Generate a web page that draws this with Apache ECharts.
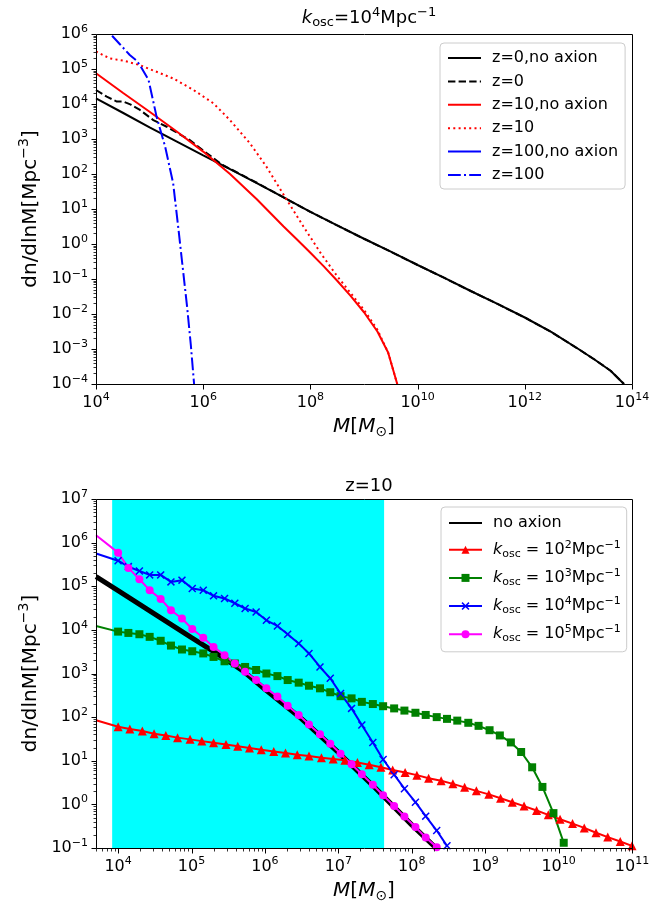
<!DOCTYPE html>
<html>
<head>
<meta charset="utf-8">
<script src="https://cdn.jsdelivr.net/npm/echarts@6/dist/echarts.min.js"></script>
<style>
  html, body { margin: 0; padding: 0; background: #fff; }
  #chart { width: 672px; height: 909px; }
</style>
</head>
<body>
<div id="chart"></div>
<script>
// ---------------- Upper panel: k_osc = 1e4 Mpc^-1 (values stored as log10) ----------------
const z0NoAxionLogM = [4, 4.5, 5, 5.5, 6, 6.5, 7, 7.5, 8, 8.5, 9, 9.5, 10, 10.5, 11, 11.5, 12, 12.5, 13, 13.3, 13.6, 13.85];
const z0NoAxionLogN = [4.16, 3.75, 3.33, 2.93, 2.53, 2.14, 1.74, 1.33, 0.92, 0.53, 0.15, -0.22, -0.6, -0.97, -1.35, -1.72, -2.1, -2.52, -3.0, -3.3, -3.62, -4.0];

const z0LogM = [4, 4.2, 4.39, 4.51, 4.65, 4.82, 5.07, 5.32, 5.75, 6.07, 6.37, 6.69, 7, 7.5, 8, 8.5, 9, 9.5, 10, 10.5, 11, 11.5, 12, 12.5, 13, 13.3, 13.6, 13.85];
const z0LogN = [4.4, 4.21, 4.07, 4.07, 3.98, 3.83, 3.54, 3.35, 2.97, 2.59, 2.25, 2.0, 1.75, 1.33, 0.92, 0.53, 0.15, -0.22, -0.6, -0.97, -1.35, -1.72, -2.1, -2.52, -3.0, -3.3, -3.62, -4.0];

const z10NoAxionLogM = [4, 4.5, 5, 5.5, 6, 6.5, 7, 7.5, 7.75, 8, 8.25, 8.5, 8.75, 9, 9.25, 9.45, 9.62];
const z10NoAxionLogN = [4.88, 4.32, 3.78, 3.22, 2.64, 2.0, 1.28, 0.5, 0.13, -0.25, -0.64, -1.05, -1.48, -1.95, -2.5, -3.1, -4.0];

const z10LogM = [4, 4.26, 4.51, 4.82, 5.13, 5.44, 5.82, 6.19, 6.5, 6.87, 7.18, 7.56, 7.87, 8.2, 8.5, 8.75, 9, 9.25, 9.45, 9.62];
const z10LogN = [5.5, 5.3, 5.24, 5.11, 4.92, 4.73, 4.4, 4.02, 3.54, 2.88, 2.21, 1.26, 0.5, -0.28, -0.92, -1.4, -1.88, -2.45, -3.1, -4.0];

// z=100 without axions lies entirely below the plotted range
const z100NoAxionLogM = [];
const z100NoAxionLogN = [];

const z100LogM = [4.3, 4.45, 4.63, 4.75, 4.82, 4.98, 5.13, 5.29, 5.44, 5.54, 5.62, 5.7, 5.77, 5.83];
const z100LogN = [5.95, 5.7, 5.4, 5.25, 5.11, 4.69, 3.64, 2.78, 1.73, 0.4, -0.7, -1.8, -2.9, -4.0];

// ---------------- Lower panel: z = 10 (values stored as log10) ----------------
const noAxionLogM = [3.7, 4.0, 4.5, 5.0, 5.4, 5.7, 6.0, 6.5, 7.0, 7.5, 8.0, 8.33];
const noAxionLogN = [5.22, 4.9, 4.36, 3.82, 3.4, 3.06, 2.64, 1.96, 1.19, 0.38, -0.47, -1.0];

// mass sampling of the marked curves (first entry is the left plot edge, drawn without a marker)
const k2LogM = [3.7, 4.00, 4.16, 4.33, 4.49, 4.65, 4.81, 4.98, 5.14, 5.30, 5.47, 5.63, 5.79, 5.95, 6.12, 6.28, 6.44, 6.60, 6.77, 6.93, 7.09, 7.26, 7.42, 7.58, 7.74, 7.91, 8.07, 8.23, 8.40, 8.56, 8.72, 8.88, 9.05, 9.21, 9.37, 9.53, 9.70, 9.86, 10.02, 10.19, 10.35, 10.51, 10.67, 10.84, 11.00];
const k2LogN = [1.93, 1.78, 1.73, 1.68, 1.62, 1.58, 1.53, 1.49, 1.45, 1.41, 1.37, 1.33, 1.29, 1.25, 1.21, 1.18, 1.14, 1.11, 1.07, 1.04, 1.01, 0.96, 0.91, 0.85, 0.79, 0.73, 0.67, 0.6, 0.54, 0.47, 0.39, 0.31, 0.23, 0.14, 0.05, -0.04, -0.14, -0.24, -0.34, -0.44, -0.54, -0.65, -0.75, -0.85, -0.95];

const kGridLogM = [3.7, 4.00, 4.14, 4.29, 4.43, 4.58, 4.72, 4.87, 5.01, 5.16, 5.30, 5.45, 5.59, 5.73, 5.88, 6.02, 6.17, 6.31, 6.46, 6.60, 6.75, 6.89, 7.03, 7.18, 7.32, 7.47, 7.61, 7.76, 7.90, 8.05, 8.19, 8.34, 8.48, 8.62, 8.77, 8.91, 9.06, 9.20, 9.35, 9.49, 9.64, 9.78, 9.93, 10.07];

const k3LogN = [4.09, 3.96, 3.93, 3.90, 3.84, 3.75, 3.64, 3.55, 3.51, 3.46, 3.38, 3.28, 3.23, 3.15, 3.08, 3.00, 2.94, 2.85, 2.79, 2.72, 2.66, 2.57, 2.48, 2.43, 2.35, 2.30, 2.25, 2.2, 2.15, 2.1, 2.05, 2.0, 1.96, 1.92, 1.87, 1.8, 1.7, 1.58, 1.42, 1.2, 0.85, 0.4, -0.2, -0.88];
const k4LogN = [5.75, 5.585, 5.45, 5.35, 5.26, 5.26, 5.10, 5.14, 4.95, 4.91, 4.78, 4.72, 4.61, 4.49, 4.41, 4.22, 4.09, 3.90, 3.69, 3.46, 3.15, 2.89, 2.54, 2.2, 1.82, 1.42, 1.03, 0.68, 0.36, 0.05, -0.27, -0.6, -0.95];
const k5LogN = [6.17, 5.77, 5.42, 5.16, 4.91, 4.71, 4.45, 4.26, 4.02, 3.82, 3.61, 3.42, 3.23, 3.04, 2.85, 2.66, 2.47, 2.26, 2.05, 1.83, 1.61, 1.39, 1.16, 0.92, 0.69, 0.45, 0.21, -0.04, -0.28, -0.52, -0.76, -0.98];

// shaded mass window (solar masses)
const shadedMassRange = [8.3e3, 4.2e7];

// axis limits and major tick exponents
const topXRange = [1e4, 1e14], topYRange = [1e-4, 1e6];
const botXRange = [5e3, 1e11], botYRange = [1e-1, 1e7];
const topXMajorExp = [4, 6, 8, 10, 12, 14];
const topYMajorExp = [-4, -3, -2, -1, 0, 1, 2, 3, 4, 5, 6];
const botXMajorExp = [4, 5, 6, 7, 8, 9, 10, 11];
const botYMajorExp = [-1, 0, 1, 2, 3, 4, 5, 6, 7];
const minorMultipliers = [2, 3, 4, 5, 6, 7, 8, 9];

const FONT = 'DejaVu Sans';
const TICK_FONT = 16, NAME_FONT = 20, TITLE_FONT = 18, LEGEND_FONT = 16;

function mathRich(size) {
  const small = Math.round(size * 0.7);
  const base = { fontFamily: FONT, color: '#000', fontWeight: 'normal' };
  return {
    n: Object.assign({ fontSize: size }, base),
    it: Object.assign({ fontSize: size, fontStyle: 'italic' }, base),
    sub: Object.assign({ fontSize: small, padding: [Math.round(size * 0.5), 0, 0, 0] }, base),
    sup: Object.assign({ fontSize: small, padding: [0, 0, Math.round(size * 0.6), 0] }, base)
  };
}
function pow10(e) { return '{n|10}{sup|' + (e < 0 ? '\u2212' + (-e) : e) + '}'; }
function logLabel(v) {
  const e = Math.log10(v), r = Math.round(e);
  return Math.abs(e - r) < 1e-6 ? pow10(r) : '';
}
function pairs(logM, logN) { return logM.map((m, i) => [Math.pow(10, m), Math.pow(10, logN[i])]); }
function markedPairs(logM, logN) {
  return logN.map((n, i) => {
    const item = { value: [Math.pow(10, logM[i]), Math.pow(10, n)] };
    if (i === 0) item.symbol = 'none';
    return item;
  });
}
function minorValues(range) {
  const out = [];
  const e0 = Math.floor(Math.log10(range[0])), e1 = Math.ceil(Math.log10(range[1]));
  for (let e = e0; e <= e1; e++) {
    minorMultipliers.forEach(m => {
      const v = m * Math.pow(10, e);
      if (v >= range[0] * 0.999 && v <= range[1] * 1.001) out.push(v);
    });
  }
  return out;
}

// tick marks drawn through the axis scales (outward, matplotlib style)
function tickSeries(gi, axis, values, len, width, fixed) {
  return {
    type: 'custom', xAxisIndex: gi, yAxisIndex: gi, silent: true, clip: false, z: 20,
    data: values.map(v => axis === 'x' ? [v, fixed] : [fixed, v]),
    renderItem: (params, api) => {
      const p = api.coord([api.value(0), api.value(1)]);
      const x = Math.round(p[0]) + 0.5, y = Math.round(p[1]) + 0.5;
      const shape = axis === 'x'
        ? { x1: x, y1: y, x2: x, y2: y + len }
        : { x1: x, y1: y, x2: x - len, y2: y };
      return { type: 'line', shape, style: { stroke: '#000', lineWidth: width } };
    }
  };
}
function frameSeries(gi, xr, yr) {
  return {
    type: 'custom', xAxisIndex: gi, yAxisIndex: gi, silent: true, clip: false, z: 21,
    data: [[xr[0], yr[1], xr[1], yr[0]]],
    renderItem: (params, api) => {
      const a = api.coord([api.value(0), api.value(1)]);
      const b = api.coord([api.value(2), api.value(3)]);
      return { type: 'rect', shape: { x: Math.round(a[0]) + 0.5, y: Math.round(a[1]) + 0.5, width: Math.round(b[0] - a[0]), height: Math.round(b[1] - a[1]) },
               style: { fill: 'none', stroke: '#000', lineWidth: 1 } };
    }
  };
}

function xAxisCfg(gi, range, extra, showMin) {
  return Object.assign({
    type: 'log', logBase: 10, gridIndex: gi, min: range[0], max: range[1],
    axisLine: { show: false }, axisTick: { show: false }, splitLine: { show: false }, minorTick: { show: false },
    axisLabel: { formatter: logLabel, rich: mathRich(TICK_FONT), margin: 8, interval: 0, showMinLabel: showMin, showMaxLabel: true, hideOverlap: false },
    name: '{it|M}{n|[}{it|M}{sub|\u2299}{n|]}', nameLocation: 'middle', nameGap: 31,
    nameTextStyle: { rich: mathRich(NAME_FONT) }
  }, extra);
}
function yAxisCfg(gi, range) {
  return {
    type: 'log', logBase: 10, gridIndex: gi, min: range[0], max: range[1], interval: 1,
    axisLine: { show: false }, axisTick: { show: false }, splitLine: { show: false }, minorTick: { show: false },
    axisLabel: { formatter: logLabel, rich: mathRich(TICK_FONT), margin: 8, interval: 0, showMinLabel: true, showMaxLabel: true, hideOverlap: false },
    name: '{n|dn/dlnM[Mpc}{sup|\u22123}{n|]}', nameLocation: 'middle', nameGap: 44, nameRotate: 90,
    nameTextStyle: { rich: mathRich(NAME_FONT) }
  };
}

function plainLine(name, data, color, type, gi) {
  return {
    name, type: 'line', xAxisIndex: gi, yAxisIndex: gi, data, symbol: 'none', z: 5,
    lineStyle: { color, width: 2, type }, itemStyle: { color }, clip: true, animation: false
  };
}
function markedLine(name, data, color, symbol, size, width) {
  return {
    name, type: 'line', xAxisIndex: 1, yAxisIndex: 1, data, symbol, symbolSize: size, showSymbol: true, showAllSymbol: true, z: 5,
    lineStyle: { color, width: width || 2 }, itemStyle: { color }, clip: true, animation: false
  };
}

const crossSymbol = 'path://M0,1.3L1.3,0L5,3.7L8.7,0L10,1.3L6.3,5L10,8.7L8.7,10L5,6.3L1.3,10L0,8.7L3.7,5Z';

const kLegendText = {
  'k2': '{it|k}{sub|osc}{n| = 10}{sup|2}{n|Mpc}{sup|\u22121}',
  'k3': '{it|k}{sub|osc}{n| = 10}{sup|3}{n|Mpc}{sup|\u22121}',
  'k4': '{it|k}{sub|osc}{n| = 10}{sup|4}{n|Mpc}{sup|\u22121}',
  'k5': '{it|k}{sub|osc}{n| = 10}{sup|5}{n|Mpc}{sup|\u22121}'
};

const legendBase = {
  orient: 'vertical', backgroundColor: 'rgba(255,255,255,0.8)', borderColor: '#cccccc', borderWidth: 1, borderRadius: 4,
  itemWidth: 33, selectedMode: false
};

const option = {
  animation: false,
  backgroundColor: '#fff',
  title: [
    { text: '{it|k}{sub|osc}{n|=10}{sup|4}{n|Mpc}{sup|\u22121}', left: 364, top: 1, textAlign: 'center', textStyle: { fontWeight: 'normal', rich: mathRich(TITLE_FONT) } },
    { text: '{n|z=10}', left: 364, top: 472, textAlign: 'center', textStyle: { fontWeight: 'normal', rich: mathRich(TITLE_FONT) } }
  ],
  grid: [
    { left: 96, top: 34, width: 536, height: 350, show: false },
    { left: 96, top: 499, width: 536, height: 349, show: false }
  ],
  xAxis: [xAxisCfg(0, topXRange, { interval: 2 }, true), xAxisCfg(1, botXRange, { splitNumber: 8 }, false)],
  yAxis: [yAxisCfg(0, topYRange), yAxisCfg(1, botYRange)],
  legend: [
    Object.assign({}, legendBase, {
      left: 440, top: 43, padding: [7, 7, 6, 7], itemGap: 7.4, itemHeight: 16,
      itemStyle: { opacity: 0 },
      data: ['z=0,no axion', 'z=0', 'z=10,no axion', 'z=10', 'z=100,no axion', 'z=100'],
      textStyle: { fontFamily: FONT, fontSize: LEGEND_FONT, lineHeight: 16, color: '#000', padding: [0, 0, 0, 6] }
    }),
    Object.assign({}, legendBase, {
      left: 441, top: 507, padding: [8, 6, 8, 7], itemGap: 8.2, itemHeight: 10,
      data: [{ name: 'no axion', itemStyle: { opacity: 0 } }, 'k2', 'k3', 'k4', 'k5'],
      formatter: name => kLegendText[name] || ('{n|' + name + '}'),
      textStyle: { fontFamily: FONT, fontSize: LEGEND_FONT, color: '#000', padding: [0, 0, 0, 6], rich: mathRich(LEGEND_FONT) }
    })
  ],
  series: [
    // upper panel
    plainLine('z=0,no axion', pairs(z0NoAxionLogM, z0NoAxionLogN), '#000000', 'solid', 0),
    plainLine('z=0', pairs(z0LogM, z0LogN), '#000000', [7.4, 3.2], 0),
    plainLine('z=10,no axion', pairs(z10NoAxionLogM, z10NoAxionLogN), '#ff0000', 'solid', 0),
    plainLine('z=10', pairs(z10LogM, z10LogN), '#ff0000', [2, 3.3], 0),
    plainLine('z=100,no axion', pairs(z100NoAxionLogM, z100NoAxionLogN), '#0000ff', 'solid', 0),
    plainLine('z=100', pairs(z100LogM, z100LogN), '#0000ff', [12.8, 3.2, 2, 3.2], 0),
    tickSeries(0, 'x', topXMajorExp.map(e => Math.pow(10, e)), 5, 1, topYRange[0]),
    tickSeries(0, 'y', topYMajorExp.map(e => Math.pow(10, e)), 5, 1, topXRange[0]),
    tickSeries(0, 'y', minorValues(topYRange), 3, 0.8, topXRange[0]),
    frameSeries(0, topXRange, topYRange),

    // lower panel
    {
      type: 'custom', xAxisIndex: 1, yAxisIndex: 1, silent: true, z: 1,
      data: [[shadedMassRange[0], botYRange[1], shadedMassRange[1], botYRange[0]]],
      renderItem: (params, api) => {
        const a = api.coord([api.value(0), api.value(1)]);
        const b = api.coord([api.value(2), api.value(3)]);
        return { type: 'rect', shape: { x: a[0], y: a[1], width: b[0] - a[0], height: b[1] - a[1] }, style: { fill: '#00ffff' } };
      }
    },
    markedLine('no axion', pairs(noAxionLogM, noAxionLogN), '#000000', 'none', 0, 5),
    markedLine('k2', markedPairs(k2LogM, k2LogN), '#ff0000', 'triangle', 9),
    markedLine('k3', markedPairs(kGridLogM, k3LogN), '#008000', 'rect', 8),
    markedLine('k4', markedPairs(kGridLogM, k4LogN), '#0000ff', crossSymbol, 8),
    markedLine('k5', markedPairs(kGridLogM, k5LogN), '#ff00ff', 'circle', 8),
    tickSeries(1, 'x', botXMajorExp.map(e => Math.pow(10, e)), 5, 1, botYRange[0]),
    tickSeries(1, 'x', minorValues(botXRange), 3, 0.8, botYRange[0]),
    tickSeries(1, 'y', botYMajorExp.map(e => Math.pow(10, e)), 5, 1, botXRange[0]),
    tickSeries(1, 'y', minorValues(botYRange), 3, 0.8, botXRange[0]),
    frameSeries(1, botXRange, botYRange)
  ]
};

const chart = echarts.init(document.getElementById('chart'), null, { renderer: 'canvas' });
chart.setOption(option);
</script>
</body>
</html>
